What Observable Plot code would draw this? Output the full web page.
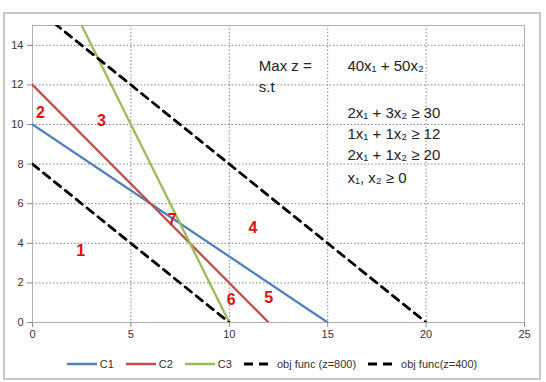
<!DOCTYPE html>
<html>
<head>
<meta charset="utf-8">
<script src="https://cdn.jsdelivr.net/npm/d3@7"></script>
<script src="https://cdn.jsdelivr.net/npm/@observablehq/plot@0.6"></script>
<style>
  html, body { margin: 0; padding: 0; background: #fff; }
  body { width: 546px; height: 382px; position: relative; font-family: "Liberation Sans", Arial, sans-serif; }
  #box { position: absolute; left: 3px; top: 12px; width: 534px; height: 364px; border: 2px solid #c8c8c8; background: #fff; }
  #chart { position: absolute; left: 0; top: 0; }
  #legend { position: absolute; left: 0; top: 344px; width: 534px; display: flex; justify-content: center; align-items: center; font-size: 11px; color: #333; }
  .item { display: flex; align-items: center; margin: 0 6px; }
  .item svg { margin-right: 3px; }
</style>
</head>
<body>
<div id="box">
  <div id="chart"></div>
  <div id="legend"></div>
</div>
<script>
// ---- data ----
const xTicks = [0, 5, 10, 15, 20, 25];
const yTicks = [0, 2, 4, 6, 8, 10, 12, 14];
const seriesNames = ["C1", "C2", "C3", "obj func (z=800)", "obj func(z=400)"];
const seriesColors = ["#4F81BD", "#C0504D", "#9BBB59", "#000000", "#000000"];
const seriesDashed = [false, false, false, true, true];
const c1 = [{x: 0, y: 10}, {x: 15, y: 0}];
const c2 = [{x: 0, y: 12}, {x: 12, y: 0}];
const c3 = [{x: 2.5, y: 15}, {x: 10, y: 0}];
const obj800 = [{x: 0, y: 16}, {x: 20, y: 0}];
const obj400 = [{x: 0, y: 8}, {x: 10, y: 0}];
const regionLabels = ["1", "2", "3", "4", "5", "6", "7"];
const regionX = [2.45, 0.4, 3.5, 11.2, 12.0, 10.1, 7.1];
const regionY = [3.6, 10.6, 10.2, 4.8, 1.25, 1.15, 5.2];
const modelText = ["Max z =", "40x₁ + 50x₂", "s.t", "2x₁ + 3x₂ ≥ 30", "1x₁ + 1x₂ ≥ 12", "2x₁ + 1x₂ ≥ 20", "x₁, x₂ ≥ 0"];
const modelX = [11.5, 16.0, 11.5, 16.0, 16.0, 16.0, 16.0];
const modelY = [12.95, 12.95, 11.9, 10.55, 9.5, 8.45, 7.3];

// ---- chart ----
const lines = [c1, c2, c3, obj800, obj400];
const regions = regionLabels.map((t, i) => ({t, x: regionX[i], y: regionY[i]}));
const model = modelText.map((t, i) => ({t, x: modelX[i], y: modelY[i]}));

const chart = Plot.plot({
  width: 534,
  height: 326,
  marginLeft: 27,
  marginTop: 11,
  marginBottom: 18,
  marginRight: 15,
  style: {fontFamily: "'Liberation Sans', Arial, sans-serif", fontSize: "11px", color: "#333", background: "transparent"},
  x: {domain: [0, 25]},
  y: {domain: [0, 15]},
  marks: [
    Plot.gridX(xTicks, {stroke: "#666", strokeOpacity: 0.8, strokeDasharray: "1.5,2"}),
    Plot.gridY(yTicks, {stroke: "#666", strokeOpacity: 0.8, strokeDasharray: "1.5,2"}),
    Plot.frame({stroke: "#b0b0b0"}),
    Plot.axisX({ticks: xTicks, tickSize: 5, tickPadding: 3, label: null, stroke: "#888"}),
    Plot.axisY({ticks: yTicks, tickSize: 5, tickPadding: 4, label: null, stroke: "#888"}),
    ...lines.map((d, i) => Plot.line(d, {
      x: "x", y: "y", stroke: seriesColors[i], strokeWidth: seriesDashed[i] ? 2.8 : 2.3,
      strokeDasharray: seriesDashed[i] ? "8,6" : null, clip: true
    })),
    Plot.text(model, {x: "x", y: "y", text: "t", textAnchor: "start", fontSize: 15, fill: "#222"}),
    Plot.text(regions, {x: "x", y: "y", text: "t", fill: "#e01010", fontWeight: "bold", fontSize: 16})
  ]
});
document.getElementById("chart").appendChild(chart);

// ---- legend ----
const legend = document.getElementById("legend");
seriesNames.forEach((name, i) => {
  const item = document.createElement("div");
  item.className = "item";
  const dash = seriesDashed[i] ? ' stroke-dasharray="9,6"' : "";
  const sw = seriesDashed[i] ? 3 : 2.5;
  item.innerHTML = `<svg width="30" height="8"><line x1="0" y1="4" x2="30" y2="4" stroke="${seriesColors[i]}" stroke-width="${sw}"${dash}/></svg><span>${name}</span>`;
  legend.appendChild(item);
});
</script>
</body>
</html>
